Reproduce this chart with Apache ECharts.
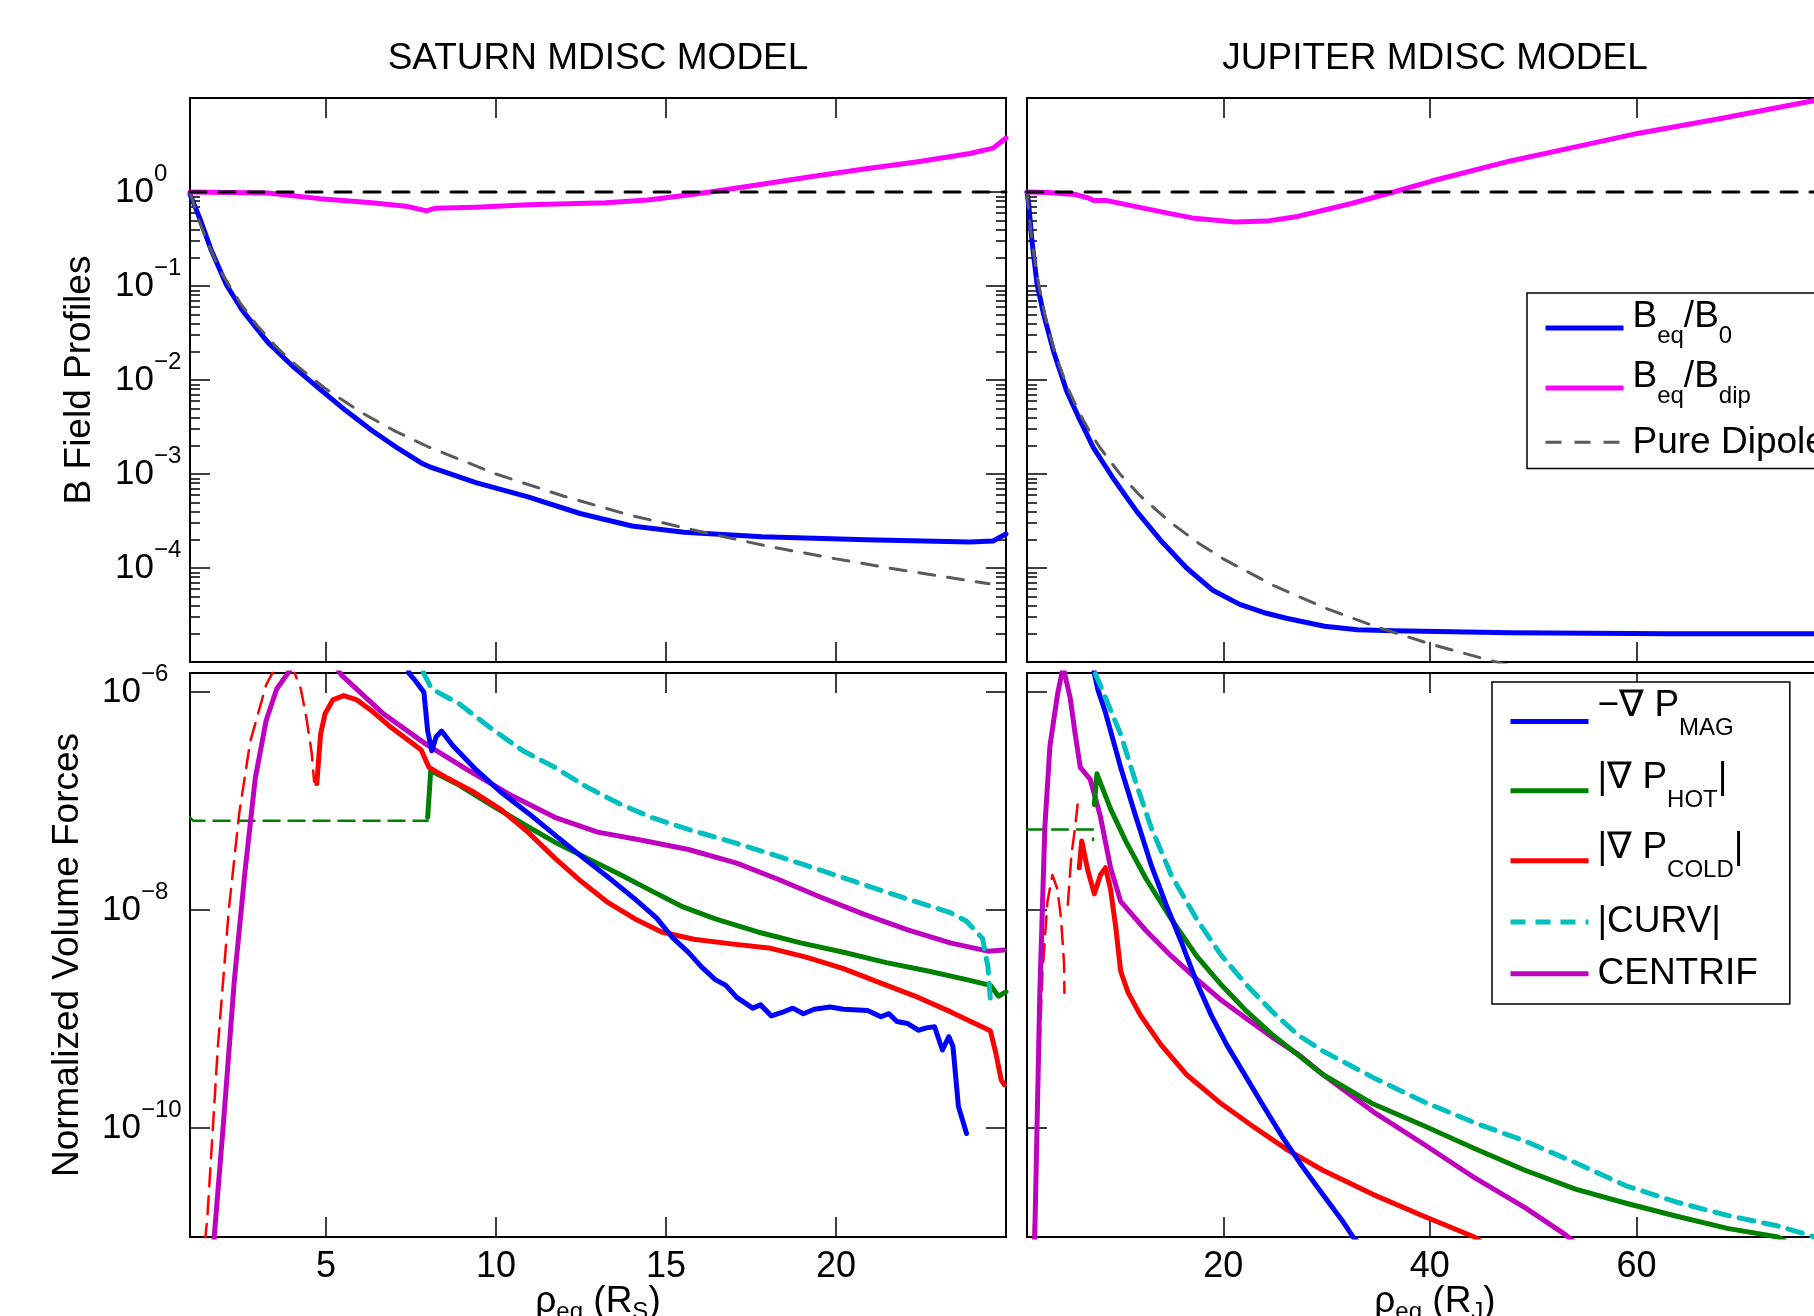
<!DOCTYPE html>
<html>
<head>
<meta charset="utf-8">
<title>Saturn / Jupiter MDISC model</title>
<script src="https://cdn.jsdelivr.net/npm/echarts@6.0.0/dist/echarts.min.js"></script>
<style>
  html, body { margin: 0; padding: 0; background: #fff; }
  #chart { width: 1814px; height: 1316px; }
</style>
</head>
<body>
<div id="chart"></div>
<script>
const FONT = "'Liberation Sans', Arial, Helvetica, sans-serif";

// ---------- axes ----------
const satRange = [1, 25];
const jupRange = [1, 80];
const bRange = [1e-5, 10];
const fRange = [1e-11, 1.5e-6];
const satXTicks = [5, 10, 15, 20];
const jupXTicks = [20, 40, 60];
const bTicks = [1e-4, 1e-3, 1e-2, 1e-1, 1];
const fTicks = [1e-10, 1e-8, 1e-6];
const bDecades = [1e-5, 1e-4, 1e-3, 1e-2, 1e-1];

// ---------- B field profiles (top) : [rho_eq, value] ----------
const satBeqB0 = [[1,0.95],[1.31,0.50],[1.61,0.248],[2.07,0.103],[2.53,0.0555],[3.29,0.0251],[4.06,0.0136],[4.82,8.0e-3],[5.59,4.7e-3],[6.35,2.9e-3],[7.12,1.87e-3],[7.80,1.31e-3],[8.03,1.2e-3],[9.41,8.1e-4],[10.94,5.7e-4],[12.47,3.8e-4],[14.0,2.8e-4],[15.53,2.4e-4],[17.82,2.15e-4],[20.88,2.0e-4],[23.94,1.89e-4],[24.62,1.94e-4],[25,2.3e-4]];
const satBeqBdip = [[1,1.0],[3.29,0.975],[4.82,0.85],[6.35,0.77],[7.42,0.70],[7.80,0.65],[7.96,0.63],[8.19,0.67],[9.41,0.69],[10.94,0.73],[13.23,0.77],[14.46,0.82],[15.53,0.92],[16.29,1.0],[17.82,1.21],[19.35,1.47],[20.88,1.77],[22.41,2.10],[23.94,2.57],[24.62,2.93],[25,3.75]];
const satDipole = [[1,1],[1.25,0.51],[1.5,0.30],[1.75,0.187],[2,0.125],[2.5,0.064],[3,0.037],[3.5,0.0233],[4,0.0156],[5,0.008],[6,0.0046],[7,0.0029],[8,0.00195],[10,0.001],[12,5.8e-4],[14,3.6e-4],[16,2.45e-4],[18,1.7e-4],[20,1.25e-4],[22,9.4e-5],[24.5,6.8e-5]];
const satUnity = [[1,1],[25,1]];

const jupBeqB0 = [[1,1.0],[1.16,0.75],[1.48,0.30],[1.97,0.105],[2.61,0.05],[3.58,0.02],[4.86,7.5e-3],[6.15,3.7e-3],[7.44,1.9e-3],[9.37,8.9e-4],[11.62,4.0e-4],[13.88,2.0e-4],[16.45,1.0e-4],[19.03,5.75e-5],[21.6,4.1e-5],[24.18,3.3e-5],[26.1,2.92e-5],[29.8,2.4e-5],[33,2.2e-5],[36.5,2.15e-5],[47.8,2.05e-5],[63.2,2.0e-5],[80,2.0e-5]];
const jupBeqBdip = [[1,1.0],[3,0.99],[5.66,0.94],[7.0,0.86],[7.47,0.81],[8.75,0.81],[11.8,0.69],[14.5,0.60],[17.0,0.53],[21.1,0.48],[24.2,0.49],[27.2,0.55],[32.4,0.755],[36.5,1.0],[40.1,1.30],[47.8,2.14],[54,3.0],[60.1,4.2],[68.3,6.1],[77.0,9.3],[80,10.5]];
const jupDipole = [[1,1],[1.25,0.51],[1.5,0.30],[1.75,0.187],[2,0.125],[2.5,0.064],[3,0.037],[3.5,0.0233],[4,0.0156],[5,0.008],[6,0.0046],[7,0.0029],[8,0.00195],[10,0.001],[12,5.8e-4],[15,3.0e-4],[17.5,1.87e-4],[20,1.25e-4],[25,6.4e-5],[30,3.7e-5],[35,2.33e-5],[40,1.56e-5],[45,1.1e-5],[48,9.0e-6]];
const jupUnity = [[1,1],[80,1]];

// ---------- normalized volume forces (bottom) ----------
const satMag = [[7.3,2.5e-6],[7.45,1.48e-6],[7.64,1.26e-6],[7.88,1.0e-6],[7.99,4.4e-7],[8.11,2.9e-7],[8.24,3.9e-7],[8.40,4.4e-7],[8.74,3.2e-7],[9.37,2.0e-7],[10.16,1.2e-7],[10.94,7.8e-8],[11.73,4.9e-8],[12.52,3.1e-8],[13.30,2.0e-8],[14.09,1.26e-8],[14.72,8.5e-9],[15.19,5.6e-9],[15.66,4.1e-9],[16.05,3.0e-9],[16.45,2.3e-9],[16.76,2.04e-9],[17.08,1.58e-9],[17.55,1.26e-9],[17.78,1.35e-9],[18.10,1.07e-9],[18.41,1.15e-9],[18.73,1.26e-9],[19.04,1.12e-9],[19.36,1.23e-9],[19.83,1.29e-9],[20.22,1.23e-9],[20.93,1.20e-9],[21.32,1.05e-9],[21.56,1.12e-9],[21.79,9.5e-10],[22.11,9.1e-10],[22.42,7.9e-10],[22.66,8.3e-10],[22.90,8.5e-10],[23.13,5.2e-10],[23.32,6.9e-10],[23.44,5.6e-10],[23.60,1.58e-10],[23.84,8.9e-11]];
const satHot = [[7.99,7.1e-8],[8.08,1.9e-7],[8.90,1.41e-7],[9.84,9.3e-8],[10.79,6.2e-8],[11.73,4.2e-8],[12.67,3.0e-8],[13.62,2.14e-8],[14.56,1.51e-8],[15.50,1.07e-8],[16.45,8.3e-9],[17.70,6.3e-9],[18.96,5.0e-9],[20.22,4.1e-9],[21.48,3.3e-9],[22.74,2.75e-9],[23.84,2.3e-9],[24.54,2.04e-9],[24.78,1.62e-9],[25,1.78e-9]];
const satHotInner = [[1,7.1e-8],[1.1,6.6e-8],[7.99,6.6e-8]];
const satCold = [[4.73,1.45e-7],[4.84,4.1e-7],[4.97,6.3e-7],[5.20,8.5e-7],[5.52,9.3e-7],[5.91,8.5e-7],[6.38,6.6e-7],[6.86,4.9e-7],[7.48,3.5e-7],[7.80,2.95e-7],[8.03,2.04e-7],[8.58,1.62e-7],[9.37,1.20e-7],[10.16,8.3e-8],[10.94,5.2e-8],[11.73,3.0e-8],[12.52,1.82e-8],[13.30,1.17e-8],[14.09,8.3e-9],[14.87,6.3e-9],[15.82,5.4e-9],[16.92,4.9e-9],[18.02,4.5e-9],[19.12,3.7e-9],[20.22,2.9e-9],[21.32,2.14e-9],[22.42,1.58e-9],[23.36,1.17e-9],[24.15,8.9e-10],[24.54,7.8e-10],[24.70,4.9e-10],[24.86,2.75e-10],[24.95,2.5e-10]];
const satColdInner = [[1.44,9e-12],[1.51,1.51e-11],[1.82,5.6e-10],[2.14,1.0e-8],[2.45,7.8e-8],[2.77,3.5e-7],[3.24,1.17e-6],[3.8,2.5e-6],[4.26,1.07e-6],[4.42,5.9e-7],[4.58,2.75e-7],[4.65,1.51e-7]];
const satCurv = [[7.6,2.5e-6],[7.88,1.48e-6],[8.11,1.07e-6],[8.90,7.9e-7],[9.84,4.7e-7],[10.79,2.9e-7],[11.73,2.04e-7],[12.67,1.35e-7],[13.62,9.5e-8],[14.56,7.1e-8],[15.66,5.5e-8],[17.08,4.1e-8],[18.33,3.1e-8],[19.59,2.3e-8],[20.85,1.70e-8],[22.11,1.26e-8],[23.36,9.5e-9],[23.84,7.9e-9],[24.31,5.5e-9],[24.47,3.0e-9],[24.54,1.51e-9]];
const satCentrif = [[1.70,9e-12],[1.98,1.07e-10],[2.30,2.19e-9],[2.61,2.14e-8],[2.92,1.62e-7],[3.24,5.5e-7],[3.55,1.07e-6],[3.87,1.48e-6],[4.5,3.0e-6],[5.0,2.5e-6],[5.44,1.45e-6],[6.70,6.3e-7],[7.96,3.3e-7],[9.21,1.9e-7],[10.47,1.12e-7],[11.73,7.1e-8],[12.99,5.2e-8],[14.25,4.4e-8],[15.66,3.6e-8],[17.08,2.7e-8],[18.33,1.9e-8],[19.59,1.30e-8],[20.85,9.1e-9],[22.11,6.6e-9],[23.36,5.0e-9],[24.47,4.2e-9],[24.94,4.3e-9]];

const jupMag = [[7.3,2.5e-6],[7.52,1.48e-6],[7.87,1.05e-6],[8.60,6.5e-7],[10.07,2.04e-7],[11.54,7.2e-8],[13.0,2.63e-8],[14.47,1.12e-8],[15.94,5.1e-9],[17.41,2.19e-9],[18.87,1.07e-9],[20.34,5.8e-10],[21.81,3.4e-10],[23.77,1.66e-10],[25.72,8.3e-11],[27.68,4.4e-11],[29.64,2.45e-11],[31.6,1.38e-11],[32.57,1.0e-11],[33,9e-12]];
const jupHot = [[7.52,9.3e-8],[7.77,1.78e-7],[9.09,8.5e-8],[10.56,4.3e-8],[12.51,1.95e-8],[14.96,8.3e-9],[17.41,3.8e-9],[19.85,2.04e-9],[22.30,1.17e-9],[24.75,7.2e-10],[29.64,3.1e-10],[34.53,1.66e-10],[39.42,1.05e-10],[44.32,6.5e-11],[49.21,4.1e-11],[54.1,2.75e-11],[59.0,2.04e-11],[63.9,1.55e-11],[68.8,1.20e-11],[73.7,1.0e-11],[74.5,9e-12]];
const jupHotInner = [[1,5.5e-8],[7.38,5.5e-8],[7.40,4.4e-8]];
const jupCold = [[6.06,2.45e-8],[6.30,4.3e-8],[6.89,2.3e-8],[7.52,1.41e-8],[8.11,2.1e-8],[8.60,2.45e-8],[9.09,1.55e-8],[9.58,7.1e-9],[10.07,2.75e-9],[10.80,1.74e-9],[12.02,1.07e-9],[13.98,5.8e-10],[16.43,3.1e-10],[19.85,1.66e-10],[22.79,1.05e-10],[26.21,6.3e-11],[29.64,4.1e-11],[34.53,2.45e-11],[39.42,1.55e-11],[44.32,1.0e-11],[45,9e-12]];
const jupColdInnerA = [[1.62,9e-12],[1.65,1.0e-11],[2.0,1.66e-10],[2.49,2.57e-9],[2.98,1.20e-8],[3.46,2.1e-8],[3.95,1.55e-8],[4.30,8.3e-9],[4.59,3.2e-9],[4.62,1.74e-9]];
const jupColdInnerB = [[4.95,1.12e-8],[5.3,3.2e-8],[5.66,5.8e-8],[5.9,9.3e-8]];
const jupCurv = [[7.4,2.5e-6],[7.62,1.48e-6],[8.60,8.9e-7],[10.07,4.1e-7],[11.54,1.48e-7],[13.0,5.8e-8],[14.96,2.1e-8],[17.41,8.3e-9],[19.85,3.8e-9],[22.30,2.04e-9],[24.75,1.17e-9],[27.19,7.2e-10],[29.64,5.1e-10],[34.53,2.9e-10],[39.42,1.74e-10],[44.32,1.12e-10],[49.21,7.6e-11],[54.1,4.8e-11],[59.0,2.95e-11],[63.9,2.09e-11],[68.8,1.58e-11],[73.7,1.26e-11],[76.6,1.05e-11],[80,8e-12]];
const jupCentrif = [[1.70,9e-12],[1.75,1.0e-11],[2.24,1.74e-9],[2.73,5.8e-8],[3.22,3.2e-7],[3.95,9.5e-7],[4.5,1.7e-6],[5.18,8.9e-7],[5.67,4.1e-7],[6.16,2.04e-7],[7.13,1.58e-7],[8.11,7.2e-8],[9.09,2.45e-8],[10.07,1.20e-8],[12.51,6.5e-9],[14.96,3.8e-9],[17.41,2.34e-9],[19.85,1.48e-9],[22.30,1.0e-9],[24.75,6.8e-10],[27.19,4.8e-10],[29.64,3.1e-10],[34.53,1.41e-10],[39.42,7.1e-11],[44.32,3.5e-11],[49.21,1.86e-11],[53.12,1.05e-11],[54,9e-12]];

// ---------- text ----------
const legendText = {
  'Beq/B0': '{n|B}{s|eq}{n|/B}{s|0}',
  'Beq/Bdip': '{n|B}{s|eq}{n|/B}{s|dip}',
  'Pure Dipole': '{n|Pure Dipole}',
  'mag': '{n|\u2212\u2207 P}{s|MAG}',
  'hot': '{n||\u2207 P}{s|HOT}{n||}',
  'cold': '{n||\u2207 P}{s|COLD}{n||}',
  'curv': '{n||CURV|}',
  'centrif': '{n|CENTRIF}'
};

function txt(size, padding) {
  const t = {fontSize: size, fontFamily: FONT, color: '#000', verticalAlign: 'top'};
  if (padding) t.padding = padding;
  return t;
}

const topLegendRich = {n: txt(37), s: txt(24, [26, 0, 0, 0])};
const botLegendRich = {n: txt(37), s: txt(24, [29, 0, 0, 0])};
const nameRich = {n: txt(37), s: txt(24, [17, 0, 0, 0])};
const supRich = {b: txt(35, [12, 0, 12, 0]), e: txt(24)};

function powLabel(v) {
  const e = Math.round(Math.log10(v));
  return '{b|10}{e|' + (e < 0 ? '\u2212' + (-e) : e) + '}';
}

const tickStyle = {color: '#000', width: 1.5};

function xAxis(grid, position, range, ticks, labels, name) {
  const ax = {
    type: 'value', gridIndex: grid, position, min: range[0], max: range[1],
    axisLine: {show: false, onZero: false},
    splitLine: {show: false},
    axisTick: {inside: true, length: 20, customValues: ticks, lineStyle: tickStyle},
    axisLabel: labels ? {customValues: ticks, margin: 12, fontSize: 36, fontFamily: FONT, color: '#000'} : {show: false}
  };
  if (name) {
    Object.assign(ax, {name, nameLocation: 'middle', nameGap: 46, nameMoveOverlap: false,
      nameTextStyle: {rich: nameRich}});
  }
  return ax;
}

function yAxis(grid, position, range, ticks, len, labelMargin, name, nameGap) {
  const ax = {
    type: 'log', logBase: 10, gridIndex: grid, position, min: range[0], max: range[1],
    axisLine: {show: false, onZero: false},
    splitLine: {show: false},
    minorTick: {show: false},
    axisTick: {inside: true, length: len, customValues: ticks, lineStyle: tickStyle},
    axisLabel: labelMargin ? {customValues: ticks, align: 'left', margin: labelMargin, formatter: powLabel, rich: supRich} : {show: false}
  };
  if (name) {
    Object.assign(ax, {name, nameLocation: 'middle', nameRotate: 90, nameGap, nameMoveOverlap: false,
      nameTextStyle: {fontSize: 37, fontFamily: FONT, color: '#000'}});
  }
  return ax;
}

const bMinor = [];
bDecades.forEach(d => { for (let k = 2; k <= 9; k++) bMinor.push(+(k * d).toPrecision(3)); });

const grids = [
  {left: 190, top: 98, width: 816, height: 564},
  {left: 1027, top: 98, width: 816, height: 564},
  {left: 190, top: 673, width: 816, height: 564},
  {left: 1027, top: 673, width: 816, height: 564}
].map(g => Object.assign({show: true, borderColor: '#000', borderWidth: 2, backgroundColor: '#fff', outerBoundsMode: 'none'}, g));

const xAxes = [
  xAxis(0, 'bottom', satRange, satXTicks, false),
  xAxis(1, 'bottom', jupRange, jupXTicks, false),
  xAxis(2, 'bottom', satRange, satXTicks, true, '{n|\u03c1}{s|eq}{n| (R}{s|S}{n|)}'),
  xAxis(3, 'bottom', jupRange, jupXTicks, true, '{n|\u03c1}{s|eq}{n| (R}{s|J}{n|)}'),
  xAxis(0, 'top', satRange, satXTicks, false),
  xAxis(1, 'top', jupRange, jupXTicks, false),
  xAxis(2, 'top', satRange, satXTicks, false),
  xAxis(3, 'top', jupRange, jupXTicks, false)
];

const yAxes = [
  yAxis(0, 'left', bRange, bTicks, 20, 75, 'B Field Profiles', 92),
  yAxis(0, 'left', bRange, bMinor, 10),
  yAxis(0, 'right', bRange, bTicks, 20),
  yAxis(0, 'right', bRange, bMinor, 10),
  yAxis(1, 'left', bRange, bTicks, 20),
  yAxis(1, 'left', bRange, bMinor, 10),
  yAxis(2, 'left', fRange, fTicks, 20, 88, 'Normalized Volume Forces', 104),
  yAxis(2, 'right', fRange, fTicks, 20),
  yAxis(3, 'left', fRange, fTicks, 20)
];
const mainY = [0, 4, 6, 8];

function curve(name, data, panel, color, width, dash) {
  return {
    type: 'line', name, data, xAxisIndex: panel, yAxisIndex: mainY[panel],
    symbol: 'none', showSymbol: false, silent: true, clip: true, smooth: false,
    lineStyle: {color, width, type: dash || 'solid', join: 'round', cap: 'round'}, itemStyle: {color},
    emphasis: {disabled: true}
  };
}

const BLUE = '#0000ff', MAGENTA = '#ff00ff', GRAY = '#5a5a5a', GREEN = '#008000',
  RED = '#ff0000', CYAN = '#00bfbf', PURPLE = '#bf00bf';
const DASH = [16, 13];

const series = [
  curve('Beq/B0', satBeqB0, 0, BLUE, 5),
  curve('Beq/Bdip', satBeqBdip, 0, MAGENTA, 5),
  curve('Pure Dipole', satDipole, 0, GRAY, 3, DASH),
  curve('unity', satUnity, 0, '#000', 3, DASH),
  curve('Beq/B0', jupBeqB0, 1, BLUE, 5),
  curve('Beq/Bdip', jupBeqBdip, 1, MAGENTA, 5),
  curve('Pure Dipole', jupDipole, 1, GRAY, 3, DASH),
  curve('unity', jupUnity, 1, '#000', 3, DASH),

  curve('hot-inner', satHotInner, 2, GREEN, 2.5, [16, 9]),
  curve('cold-inner', satColdInner, 2, RED, 2.5, [18, 10]),
  curve('centrif', satCentrif, 2, PURPLE, 5),
  curve('hot', satHot, 2, GREEN, 5),
  curve('cold', satCold, 2, RED, 5),
  curve('mag', satMag, 2, BLUE, 5),
  curve('curv', satCurv, 2, CYAN, 5, [15, 10]),

  curve('hot-inner', jupHotInner, 3, GREEN, 2.5, [16, 9]),
  curve('cold-inner', jupColdInnerA, 3, RED, 2.5, [18, 10]),
  curve('cold-inner', jupColdInnerB, 3, RED, 2.5, [18, 10]),
  curve('centrif', jupCentrif, 3, PURPLE, 5),
  curve('hot', jupHot, 3, GREEN, 5),
  curve('cold', jupCold, 3, RED, 5),
  curve('mag', jupMag, 3, BLUE, 5),
  curve('curv', jupCurv, 3, CYAN, 5, [15, 10])
];

// legend entries: [name, text padding]; the (invisible) text box sets each entry's height
const topLegendItems = [['Beq/B0', [0, 0, 10, 4]], ['Beq/Bdip', [0, 0, 10, 4]], ['Pure Dipole', [5.8, 0, 5.8, 4]]];
const botLegendItems = [['mag', [0, 0, 15.6, 4]], ['hot', [3.9, 0, 13.1, 4]], ['cold', [3.9, 0, 13.1, 4]],
  ['curv', [7.8, 0, 7.8, 4]], ['centrif', [6.9, 0, 6.9, 4]]];

function legendBox(items, left, top, padding, rich) {
  return {
    data: items.map(([name, pad]) => ({name, textStyle: {padding: pad, backgroundColor: 'transparent'}})),
    orient: 'vertical', left, top, padding, itemGap: 0,
    itemWidth: 78, itemHeight: 2, selectedMode: false,
    backgroundColor: '#fff', borderColor: '#000', borderWidth: 1.5, borderRadius: 0,
    itemStyle: {opacity: 0},
    lineStyle: {width: 'inherit', cap: 'butt'},
    formatter: name => legendText[name],
    textStyle: {fontSize: 37, fontFamily: FONT, color: '#000', rich}
  };
}

const titleStyle = {fontSize: 37, fontWeight: 'normal', fontFamily: FONT, color: '#000'};

const option = {
  animation: false,
  backgroundColor: '#fff',
  textStyle: {fontFamily: FONT},
  title: [
    {text: 'SATURN MDISC MODEL', left: 593, top: 35, textAlign: 'center', textStyle: titleStyle},
    {text: 'JUPITER MDISC MODEL', left: 1430, top: 35, textAlign: 'center', textStyle: titleStyle}
  ],
  legend: [
    legendBox(topLegendItems, 1527, 293, [5, 60, 2, 16], topLegendRich),
    legendBox(botLegendItems, 1492, 682, [5.1, 32, 4.9, 16], botLegendRich)
  ],
  grid: grids,
  xAxis: xAxes,
  yAxis: yAxes,
  series
};

const chart = echarts.init(document.getElementById('chart'), null, {renderer: 'canvas'});
chart.setOption(option);
</script>
</body>
</html>
